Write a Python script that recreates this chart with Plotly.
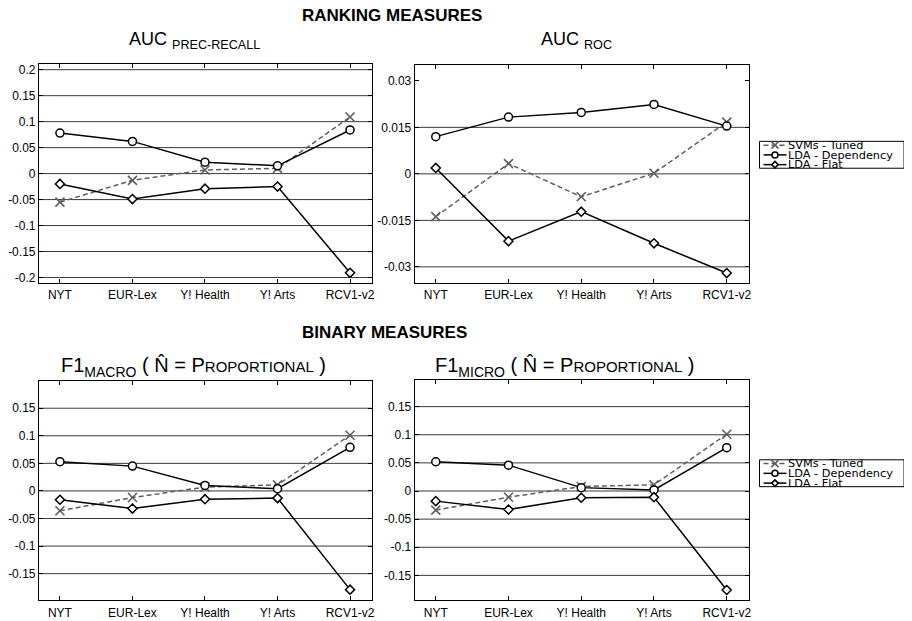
import plotly.graph_objects as go

# ---------------- data ----------------
categories = ["NYT", "EUR-Lex", "Y! Health", "Y! Arts", "RCV1-v2"]
series_names = ["SVMs - Tuned", "LDA - Dependency", "LDA - Flat"]

auc_pr_svm = [-0.055, -0.013, 0.007, 0.010, 0.109]
auc_pr_dep = [0.078, 0.062, 0.022, 0.015, 0.084]
auc_pr_flat = [-0.020, -0.049, -0.029, -0.025, -0.191]

auc_roc_svm = [-0.0138, 0.0033, -0.0074, 0.0002, 0.0167]
auc_roc_dep = [0.0120, 0.0183, 0.0198, 0.0224, 0.0154]
auc_roc_flat = [0.0019, -0.0217, -0.0122, -0.0224, -0.0320]

f1_macro_svm = [-0.036, -0.012, 0.007, 0.011, 0.101]
f1_macro_dep = [0.053, 0.045, 0.010, 0.004, 0.079]
f1_macro_flat = [-0.016, -0.032, -0.015, -0.013, -0.179]

f1_micro_svm = [-0.034, -0.011, 0.008, 0.011, 0.101]
f1_micro_dep = [0.052, 0.046, 0.006, 0.002, 0.077]
f1_micro_flat = [-0.018, -0.033, -0.012, -0.011, -0.176]

pr_ticks = [0.2, 0.15, 0.1, 0.05, 0, -0.05, -0.1, -0.15, -0.2]
pr_labels = ["0.2", "0.15", "0.1", "0.05", "0", "-0.05", "-0.1", "-0.15", "-0.2"]
roc_ticks = [0.03, 0.015, 0, -0.015, -0.03]
roc_labels = ["0.03", "0.015", "0", "-0.015", "-0.03"]
roc_grid = [0.015, 0, -0.015, -0.03]
f1_ticks = [0.15, 0.1, 0.05, 0, -0.05, -0.1, -0.15]
f1_labels = ["0.15", "0.1", "0.05", "0", "-0.05", "-0.1", "-0.15"]

# ---------------- layout helpers ----------------
W, H = 912, 621
OFF = 8  # page body margin of the html page
FONT = "Liberation Sans, Arial, sans-serif"
LEGEND_FONT = "DejaVu Sans, Liberation Sans, sans-serif"


def px(x):
    return (x - OFF) / W


def py(y):
    return 1 - (y - OFF) / H


styles = [
    dict(mode="lines+markers",
         line=dict(color="#5f5f5f", width=1.5, dash="5px,3px"),
         marker=dict(symbol="x-thin", size=9, color="#5f5f5f",
                     line=dict(color="#5f5f5f", width=1.6))),
    dict(mode="lines+markers",
         line=dict(color="black", width=1.5),
         marker=dict(symbol="circle", size=8, color="white",
                     line=dict(color="black", width=1.5))),
    dict(mode="lines+markers",
         line=dict(color="black", width=1.5),
         marker=dict(symbol="diamond", size=7, color="white",
                     line=dict(color="black", width=1.5))),
]

panels = [
    dict(series=[auc_pr_svm, auc_pr_dep, auc_pr_flat], ticks=pr_ticks, labels=pr_labels,
         grid=pr_ticks, yrange=[-0.21, 0.2115], xdom=(39, 373), ydom=(63, 283)),
    dict(series=[auc_roc_svm, auc_roc_dep, auc_roc_flat], ticks=roc_ticks, labels=roc_labels,
         grid=roc_grid, yrange=[-0.0351, 0.0352], xdom=(416, 751), ydom=(64, 283)),
    dict(series=[f1_macro_svm, f1_macro_dep, f1_macro_flat], ticks=f1_ticks, labels=f1_labels,
         grid=f1_ticks, yrange=[-0.198, 0.199], xdom=(39, 373), ydom=(382, 602)),
    dict(series=[f1_micro_svm, f1_micro_dep, f1_micro_flat], ticks=f1_ticks, labels=f1_labels,
         grid=f1_ticks, yrange=[-0.194, 0.197], xdom=(416, 751), ydom=(381, 602)),
]

fig = go.Figure()
shapes = []
layout = dict(
    width=W, height=H, margin=dict(l=0, r=0, t=0, b=0),
    paper_bgcolor="white", plot_bgcolor="rgba(0,0,0,0)",
    showlegend=False, font=dict(family=FONT, color="black", size=12),
)

for i, p in enumerate(panels, start=1):
    sfx = "" if i == 1 else str(i)
    xa, ya = "x" + sfx, "y" + sfx
    for name, vals, st in zip(series_names, p["series"], styles):
        fig.add_trace(go.Scatter(x=categories, y=vals, name=name,
                                 xaxis=xa, yaxis=ya, **st))
    layout["xaxis" + sfx] = dict(
        domain=[px(p["xdom"][0]), px(p["xdom"][1])], anchor=ya,
        type="category", range=[-0.29, 4.3],
        showline=True, linecolor="black", linewidth=1, mirror="ticks",
        ticks="inside", ticklen=4, tickcolor="black", showgrid=False,
        tickfont=dict(size=12, family=FONT), ticklabelstandoff=1,
    )
    layout["yaxis" + sfx] = dict(
        domain=[py(p["ydom"][1]), py(p["ydom"][0])], anchor=xa,
        range=p["yrange"], tickvals=p["ticks"], ticktext=p["labels"],
        showline=True, linecolor="black", linewidth=1, mirror="ticks",
        ticks="inside", ticklen=4, tickcolor="black", showgrid=False,
        zeroline=False, tickfont=dict(size=12, family=FONT),
    )
    for g in p["grid"]:
        shapes.append(dict(type="line", xref=xa + " domain", x0=0, x1=1,
                           yref=ya, y0=g, y1=g, layer="below",
                           line=dict(color="#3a3a3a", width=1)))

# ---------------- custom legends (two copies) ----------------
layout["xaxis5"] = dict(domain=[0, 1], range=[OFF, W + OFF], visible=False, anchor="y5")
layout["yaxis5"] = dict(domain=[0, 1], range=[H + OFF, OFF], visible=False, anchor="x5")

annotations = []
for top in (141, 461):
    shapes.append(dict(type="rect", xref="paper", yref="paper",
                       x0=px(762), x1=px(907), y0=py(top + 27), y1=py(top),
                       line=dict(color="black", width=1), fillcolor="white",
                       layer="below"))
    for k, (name, st) in enumerate(zip(series_names, styles)):
        yy = top + 3.8 + k * 9.8
        fig.add_trace(go.Scatter(x=[766, 789], y=[yy, yy], mode="lines",
                                 line=st["line"], xaxis="x5", yaxis="y5",
                                 hoverinfo="skip"))
        fig.add_trace(go.Scatter(x=[777.5], y=[yy], mode="markers",
                                 marker=dict(st["marker"], size=st["marker"]["size"] - 2),
                                 xaxis="x5", yaxis="y5", hoverinfo="skip"))
        annotations.append(dict(xref="paper", yref="paper", x=px(789), y=py(yy + 0.3),
                                xanchor="left", yanchor="middle", showarrow=False,
                                text=name, font=dict(size=11.3, family=LEGEND_FONT)))

# ---------------- titles ----------------
titles = [
    dict(text="<b>RANKING MEASURES</b>", x=px(393), y=py(14.5), font=dict(size=17)),
    dict(text="<b>BINARY MEASURES</b>", x=px(386), y=py(333), font=dict(size=17)),
    dict(text="AUC <sub>PREC-RECALL</sub>", x=px(195), y=py(40), font=dict(size=18)),
    dict(text="AUC <sub>ROC</sub>", x=px(578), y=py(40), font=dict(size=18)),
    dict(text="F1<sub>MACRO</sub> ( N\u0302 = P<span style='font-size:15px'>ROPORTIONAL</span> )",
         x=px(194), y=py(368), font=dict(size=20)),
    dict(text="F1<sub>MICRO</sub> ( N\u0302 = P<span style='font-size:15px'>ROPORTIONAL</span> )",
         x=px(567), y=py(368), font=dict(size=20)),
]
for a in titles:
    a.update(xref="paper", yref="paper", xanchor="center", yanchor="middle",
             showarrow=False)
    a["font"] = dict(a["font"], family=FONT, color="black")
annotations += titles

layout["shapes"] = shapes
layout["annotations"] = annotations
fig.update_layout(**layout)
fig.write_html("out.html")
